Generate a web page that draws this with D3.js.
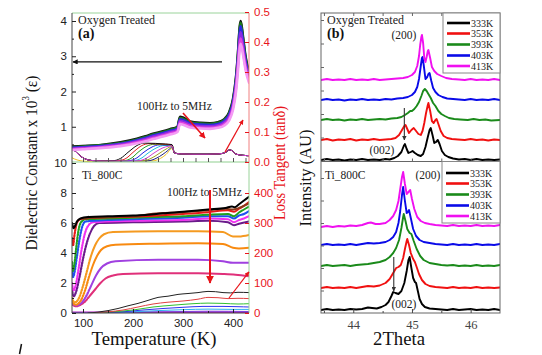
<!DOCTYPE html>
<html><head><meta charset="utf-8">
<script src="https://cdn.jsdelivr.net/npm/d3@7"></script>
<style>body{margin:0;background:#fff}svg{display:block}</style>
</head><body><svg id="c" width="542" height="355"></svg>
<script>
// ================= DATA =================
// Panel (a) – temperature axis
const tempDomain = [78, 432];
const tempTicks = [100, 200, 300, 400];
const epsTopTicks = [1, 2, 3, 4];
const epsBotTicks = [0, 2, 4, 6, 8, 10];
const tanTopTicks = [0, 0.1, 0.2, 0.3, 0.4, 0.5];
const tanBotTicks = [0, 100, 200, 300, 400];

// Oxygen treated: dielectric constant (x10^3), several frequencies
const epsTopBlack = [[78,.44],[100,.45],[140,.49],[175,.56],[208,.66],[225,.73],[240,.80],[260,.87],[274,.93],[289,1.0],[294,1.28],[300,1.26],[314,1.15],[335,1.11],[354,1.1],[370,1.13],[382,1.21],[392,1.4],[400,1.78],[406,2.4],[410,3.1],[413,3.75],[415,4.0],[417,3.88],[420,3.55],[425,3.0],[432,2.55]];
const epsTopGreen = [[78,.42],[100,.44],[140,.48],[175,.54],[208,.64],[225,.71],[240,.78],[260,.85],[274,.91],[289,.98],[294,1.25],[300,1.23],[314,1.13],[335,1.09],[354,1.08],[370,1.11],[382,1.19],[392,1.37],[400,1.74],[406,2.35],[410,3.05],[413,3.7],[415,3.95],[417,3.82],[420,3.5],[425,2.95],[432,2.5]];
const epsTopBlue = [[78,.40],[100,.42],[140,.46],[175,.52],[208,.62],[225,.68],[240,.75],[260,.82],[274,.88],[289,.95],[294,1.21],[300,1.19],[314,1.1],[335,1.06],[354,1.05],[370,1.08],[382,1.16],[392,1.33],[400,1.68],[406,2.28],[410,2.95],[413,3.6],[415,3.85],[417,3.72],[420,3.4],[425,2.88],[432,2.45]];
const epsTopPurple = [[78,.38],[100,.40],[140,.44],[175,.50],[208,.59],[225,.65],[240,.72],[260,.79],[274,.85],[289,.92],[294,1.17],[300,1.15],[314,1.06],[335,1.02],[354,1.01],[370,1.04],[382,1.12],[392,1.28],[400,1.62],[406,2.2],[410,2.85],[413,3.45],[415,3.68],[417,3.58],[420,3.3],[425,2.8],[432,2.38]];
const epsTopMagenta = [[78,.36],[100,.38],[140,.42],[175,.47],[208,.56],[225,.62],[240,.68],[260,.75],[274,.81],[289,.88],[294,1.12],[300,1.1],[314,1.02],[335,.98],[354,.97],[370,1.0],[382,1.07],[392,1.22],[400,1.55],[406,2.1],[410,2.75],[413,3.3],[415,3.5],[417,3.4],[420,3.15],[425,2.7],[432,2.3]];
const epsTopPink = [[78,.34],[100,.36],[140,.40],[175,.45],[208,.53],[225,.59],[240,.65],[260,.72],[274,.78],[289,.85],[294,1.08],[300,1.06],[314,.98],[335,.95],[354,.94],[370,.97],[382,1.03],[392,1.17],[400,1.48],[406,2.0],[410,2.6],[413,3.15],[415,3.35],[417,3.28],[420,3.05],[425,2.62],[432,2.25]];

// Oxygen treated: loss tangent (shared low-T head and high-T tail, per-frequency humps)
const tanTopHead = [[78,.045],[85,.035],[92,.024],[100,.014],[110,.007],[125,.004],[145,.003]];
const tanTopHeadLow = [[78,.014],[88,.007],[100,.003],[120,.001],[145,.002]];
const tanTopTail = [[283,.03],[295,.027],[320,.026],[350,.026],[372,.027],[385,.032],[393,.04],[398,.038],[404,.028],[412,.024],[422,.022],[432,.021]];
const hump0 = [[160,.004],[175,.012],[192,.035],[208,.055],[222,.063],[245,.062],[265,.06],[278,.058]];
const hump1 = [[170,.004],[186,.012],[202,.035],[218,.055],[232,.061],[255,.06],[278,.057]];
const hump2 = [[180,.004],[196,.012],[212,.035],[228,.053],[242,.059],[262,.058],[278,.056]];
const hump3 = [[190,.004],[206,.012],[222,.033],[238,.05],[252,.057],[268,.057],[278,.055]];
const hump4 = [[200,.004],[216,.012],[232,.032],[248,.048],[262,.055],[278,.055]];
const hump5 = [[210,.004],[226,.012],[242,.03],[258,.046],[272,.053],[278,.054]];
const hump6 = [[220,.004],[236,.012],[252,.028],[266,.043],[278,.052]];
const hump7 = [[230,.004],[246,.012],[260,.026],[271,.04],[278,.05]];
const hump8 = [[240,.004],[255,.012],[266,.025],[278,.045]];

// Ti_800C: dielectric constant (x10^3)
const epsBBlack = [[78,6.0],[81,5.65],[84,5.8],[88,6.1],[95,6.3],[110,6.4],[150,6.45],[200,6.5],[230,6.55],[260,6.65],[300,6.75],[350,6.9],[385,7.0],[398,7.1],[403,7.05],[412,7.25],[422,7.5],[432,7.75]];
const epsBBrown = [[100,6.3],[150,6.4],[200,6.45],[240,6.62],[300,6.72],[350,6.85],[385,6.95],[400,6.9],[412,7.0],[432,7.3]];
const epsBRed = [[78,5.0],[80,4.5],[83,5.2],[86,5.8],[90,6.15],[100,6.3],[150,6.38],[200,6.42],[250,6.5],[300,6.6],[350,6.72],[390,6.85],[402,6.75],[412,6.95],[422,7.15],[432,7.4]];
const epsBGreen = [[78,3.4],[80,2.8],[83,3.3],[87,4.5],[91,5.5],[96,6.05],[105,6.25],[150,6.3],[200,6.35],[250,6.4],[300,6.45],[350,6.55],[390,6.6],[402,6.45],[412,6.7],[422,6.9],[432,7.1]];
const epsBBlue = [[78,3.0],[80,2.4],[83,2.7],[88,3.8],[93,4.9],[98,5.7],[105,6.1],[150,6.2],[200,6.25],[300,6.35],[350,6.45],[390,6.45],[402,6.3],[412,6.5],[422,6.6],[432,6.8]];
const epsBMagenta = [[78,2.0],[81,1.5],[85,1.8],[91,2.9],[97,4.2],[103,5.2],[110,5.8],[120,6.05],[200,6.15],[300,6.2],[350,6.3],[390,6.25],[402,6.05],[412,6.2],[422,6.3],[432,6.45]];
const epsBPurple = [[78,1.6],[81,1.1],[86,1.4],[93,2.4],[100,3.6],[107,4.6],[114,5.3],[122,5.8],[132,6.0],[200,6.05],[300,6.1],[350,6.15],[390,6.05],[402,5.85],[412,5.95],[432,6.1]];
const epsBOrange1 = [[78,1.0],[83,0.7],[92,1.0],[100,1.8],[108,2.8],[116,3.8],[124,4.5],[132,4.95],[142,5.25],[160,5.4],[250,5.45],[330,5.45],[380,5.4],[400,5.1],[412,5.1],[432,5.2]];
const epsBOrange2 = [[78,0.8],[85,0.55],[95,0.8],[104,1.5],[112,2.4],[120,3.2],[128,3.8],[136,4.2],[148,4.45],[165,4.55],[250,4.62],[330,4.65],[380,4.6],[400,4.35],[412,4.3],[432,4.35]];
const epsBViolet = [[78,0.7],[86,0.5],[96,0.65],[106,1.1],[116,1.8],[126,2.5],[136,3.0],[148,3.3],[165,3.45],[250,3.55],[330,3.55],[380,3.45],[400,3.35],[432,3.35]];
const epsBCrimson = [[78,0.6],[85,0.45],[95,0.55],[105,0.8],[115,1.2],[125,1.6],[135,2.0],[145,2.3],[160,2.5],[180,2.6],[250,2.65],[330,2.65],[380,2.6],[405,2.55],[432,2.45]];

// Ti_800C: loss tangent (right axis)
const tanBBlack = [[110,0],[130,3],[150,8],[170,15],[190,24],[210,32],[230,42],[250,52],[270,56],[290,62],[310,65],[330,68],[350,72],[365,71],[380,68],[395,67],[410,69],[432,68]];
const tanBRed = [[120,0],[150,4],[180,10],[210,20],[240,30],[270,36],[300,40],[330,46],[350,52],[370,51],[390,48],[410,49],[432,48]];
const tanBGreen = [[130,0],[160,4],[200,10],[240,20],[280,26],[320,31],[350,33],[380,32],[410,30],[432,31]];
const tanBBlue = [[140,0],[180,4],[220,10],[260,15],[300,19],[340,22],[380,22],[410,21],[432,20]];
const tanBCyan = [[150,0],[200,4],[250,8],[300,11],[350,13],[400,12],[432,12]];
const tanBPurple = [[78,1],[200,2],[300,5],[350,6],[432,5]];
const tanBMagenta = [[78,1],[432,2]];

// Panel (b) – XRD, 2Theta
const thetaDomain = [43.45, 46.5];
const thetaTicks = [44, 45, 46];
const legendLabels = ["333K", "353K", "393K", "403K", "413K"];

const xrdTop333 = [[43.45,1],[43.55,2],[43.65,1],[43.75,1.5],[43.85,0.5],[43.95,1.5],[44.05,1],[44.15,2],[44.25,1],[44.35,1.5],[44.45,1],[44.55,2],[44.62,1.5],[44.7,3],[44.76,5],[44.82,9],[44.86,15],[44.88,17],[44.91,12],[44.94,8],[44.98,9],[45.01,10],[45.05,8],[45.1,6],[45.15,5],[45.19,7],[45.23,14],[45.27,24],[45.3,31],[45.32,33],[45.35,26],[45.38,18],[45.41,19],[45.44,21],[45.47,17],[45.51,10],[45.56,6],[45.62,4],[45.7,2.5],[45.8,1.5],[45.9,2],[46.0,1],[46.1,2],[46.2,1],[46.3,1.5],[46.4,1],[46.5,1.5]];
const xrdTop353 = [[43.45,21],[43.55,22],[43.65,20.5],[43.75,21.5],[43.85,21],[43.95,22],[44.05,20.5],[44.15,21.5],[44.25,21],[44.35,22],[44.45,21],[44.55,21.5],[44.65,22],[44.72,23],[44.78,26],[44.83,31],[44.87,35],[44.89,36],[44.92,32],[44.95,28],[44.99,31],[45.03,33],[45.07,30],[45.11,27],[45.15,26],[45.18,30],[45.21,38],[45.24,48],[45.27,56],[45.28,58],[45.31,50],[45.34,40],[45.37,38],[45.4,41],[45.42,42],[45.45,37],[45.49,30],[45.54,25],[45.6,23],[45.68,22],[45.78,21.5],[45.9,21],[46.0,22],[46.1,21],[46.2,21.5],[46.3,20.5],[46.4,21.5],[46.5,21]];
const xrdTop393 = [[43.45,41],[43.55,42],[43.65,41],[43.75,41.5],[43.85,40.5],[43.95,41.5],[44.05,41],[44.15,42],[44.25,41],[44.35,41.5],[44.45,42],[44.55,41.5],[44.65,42.5],[44.75,43],[44.82,44],[44.88,46],[44.93,48],[44.97,50],[45.0,50],[45.04,52],[45.08,55],[45.12,59],[45.16,65],[45.19,70],[45.22,72],[45.25,70],[45.28,67],[45.32,63],[45.36,58],[45.4,55],[45.45,50],[45.5,47],[45.56,45],[45.63,43],[45.72,42],[45.82,41.5],[45.95,41],[46.05,42],[46.15,41],[46.25,41.5],[46.35,40.5],[46.5,41]];
const xrdTop403 = [[43.45,61],[43.55,62],[43.65,61],[43.75,61.5],[43.85,60.5],[43.95,61.5],[44.05,61],[44.15,62],[44.25,61],[44.35,61.5],[44.45,61],[44.55,62],[44.65,61.5],[44.75,62.5],[44.85,63],[44.93,64],[45.0,66],[45.05,69],[45.09,74],[45.12,82],[45.15,95],[45.17,103],[45.18,104],[45.2,96],[45.23,82],[45.26,84],[45.28,87],[45.3,88],[45.33,80],[45.36,73],[45.4,69],[45.45,66],[45.52,64],[45.6,62.5],[45.7,62],[45.8,61.5],[45.9,61],[46.0,62],[46.1,61],[46.2,61.5],[46.3,61],[46.4,62],[46.5,61]];
const xrdTop413 = [[43.45,81],[43.55,82],[43.65,81],[43.75,81.5],[43.85,81],[43.95,82],[44.05,81],[44.15,81.5],[44.25,81],[44.35,82],[44.45,81],[44.55,81.5],[44.65,82],[44.75,82.5],[44.85,83],[44.93,84],[45.0,86],[45.05,89],[45.09,95],[45.12,105],[45.14,116],[45.16,124],[45.17,126],[45.19,118],[45.21,103],[45.23,99],[45.25,104],[45.27,110],[45.28,111],[45.31,103],[45.34,94],[45.38,90],[45.43,87],[45.5,85],[45.58,83],[45.68,82],[45.8,81.5],[45.9,81],[46.0,82],[46.1,81],[46.2,81.5],[46.3,81],[46.4,82],[46.5,81]];

const xrdBot333 = [[43.45,3],[43.55,4],[43.65,3],[43.75,3.5],[43.85,3],[43.95,4],[44.05,3.5],[44.15,4],[44.25,5.5],[44.32,5],[44.4,4.5],[44.48,6],[44.55,8],[44.6,11],[44.65,17],[44.68,21],[44.72,20],[44.77,19],[44.82,22],[44.87,30],[44.91,42],[44.94,53],[44.96,56],[44.99,45],[45.02,35],[45.05,31],[45.07,30],[45.1,22],[45.13,14],[45.17,9],[45.22,6],[45.3,4.5],[45.4,4],[45.5,3.5],[45.6,3],[45.7,4],[45.8,3],[45.9,3.5],[46.0,4],[46.1,3],[46.2,3.5],[46.3,3],[46.4,4],[46.5,3]];
const xrdBot353 = [[43.45,25],[43.55,26],[43.65,25],[43.75,25.5],[43.85,25],[43.95,26],[44.05,25],[44.15,26],[44.25,27],[44.35,26.5],[44.45,27.5],[44.55,30],[44.62,34],[44.68,40],[44.73,45],[44.77,46],[44.81,48],[44.85,55],[44.88,64],[44.91,72],[44.92,74],[44.95,68],[44.98,60],[45.02,54],[45.05,51],[45.08,46],[45.12,39],[45.17,33],[45.23,29],[45.3,27],[45.4,26],[45.5,25.5],[45.6,25],[45.7,26],[45.8,25],[45.9,25.5],[46.0,25],[46.1,26],[46.2,25],[46.3,25.5],[46.4,25],[46.5,25.5]];
const xrdBot393 = [[43.45,47],[43.55,48],[43.65,47],[43.75,47.5],[43.85,48],[43.95,47],[44.05,48],[44.15,48.5],[44.25,49],[44.35,50],[44.45,51],[44.55,53],[44.62,56],[44.68,60],[44.73,65],[44.78,73],[44.82,85],[44.85,96],[44.86,99],[44.89,92],[44.92,84],[44.96,80],[44.99,79],[45.03,72],[45.08,64],[45.14,57],[45.2,53],[45.3,50],[45.4,49],[45.5,48],[45.6,47.5],[45.7,48],[45.8,47],[45.9,47.5],[46.0,47],[46.1,48],[46.2,47],[46.3,47.5],[46.4,47],[46.5,48]];
const xrdBot403 = [[43.45,68],[43.55,69],[43.65,68],[43.75,68.5],[43.85,68],[43.95,69],[44.05,68],[44.15,69],[44.25,70],[44.35,69.5],[44.45,70],[44.55,71],[44.62,73],[44.68,76],[44.73,81],[44.77,90],[44.8,102],[44.83,118],[44.85,126],[44.88,112],[44.91,100],[44.93,101],[44.95,103],[44.98,95],[45.02,84],[45.07,77],[45.13,73],[45.2,71],[45.3,70],[45.4,69],[45.5,68.5],[45.6,68],[45.7,69],[45.8,68],[45.9,68.5],[46.0,68],[46.1,69],[46.2,68],[46.3,68.5],[46.4,68],[46.5,69]];
const xrdBot413 = [[43.45,86],[43.55,87],[43.65,86],[43.75,87],[43.85,86.5],[43.95,87.5],[44.05,87],[44.15,88],[44.25,90],[44.3,90.5],[44.38,89],[44.45,89],[44.55,90],[44.62,93],[44.68,97],[44.73,103],[44.77,112],[44.8,124],[44.83,136],[44.85,141],[44.88,129],[44.91,119],[44.94,121],[44.97,123],[45.0,114],[45.04,104],[45.09,96],[45.15,92],[45.22,90],[45.3,89],[45.4,88],[45.5,87.5],[45.6,87],[45.7,88],[45.8,87],[45.9,87.5],[46.0,87],[46.1,88],[46.2,87],[46.3,87.5],[46.4,87],[46.5,88]];

// ================= DRAWING =================
const SERIF = "'Liberation Serif','Times New Roman',serif";
const SANS = "'Liberation Sans',Arial,sans-serif";
const RED = "#e8141a";
const svg = d3.select("#c");
svg.append("rect").attr("width",542).attr("height",355).attr("fill","#fff");
const defs = svg.append("defs");
function marker(id, color){
  defs.append("marker").attr("id",id).attr("viewBox","0 0 10 10").attr("refX",9).attr("refY",5)
    .attr("markerWidth",4).attr("markerHeight",4).attr("orient","auto")
    .append("path").attr("d","M0,0L10,5L0,10z").attr("fill",color);
}
marker("mr", RED); marker("mk", "#111"); marker("mg", "#333");

const A = {l:72, r:249, t:13, m:162, b:313};
const B = {l:321, r:500, t:13, m:161.5, b:313};
function clip(id,x,y,w,h){ defs.append("clipPath").attr("id",id).append("rect").attr("x",x).attr("y",y).attr("width",w).attr("height",h); }
clip("cAT", A.l, A.t, A.r-A.l, A.m-A.t);
clip("cAB", A.l, A.m, A.r-A.l, A.b-A.m);
clip("cBT", B.l, B.t, B.r-B.l, B.m-B.t);
clip("cBB", B.l, B.m, B.r-B.l, B.b-B.m);

const xA = d3.scaleLinear().domain(tempDomain).range([A.l, A.r]);
const yAT = d3.scaleLinear().domain([0, 4.227]).range([A.m, A.t]);
const yATr = d3.scaleLinear().domain([0, 0.5]).range([A.m, 12]);
const yAB = d3.scaleLinear().domain([0, 10]).range([A.b, 163]);
const yABr = d3.scaleLinear().domain([0, 500]).range([A.b, 163]);
const xB = d3.scaleLinear().domain(thetaDomain).range([B.l, B.r]);
const yBT = d3.scaleLinear().domain([0, 148]).range([161, B.t]);
const yBB = d3.scaleLinear().domain([0, 151]).range([B.b, 162]);

function drawLine(g, data, xs, ys, color, w, smooth, dash){
  const ln = d3.line().x(d=>xs(d[0])).y(d=>ys(d[1])).curve(smooth ? d3.curveMonotoneX : d3.curveLinear);
  const p = g.append("path").datum(data).attr("d", ln).attr("fill","none").attr("stroke",color)
    .attr("stroke-width",w).attr("stroke-linejoin","round").attr("stroke-linecap","round");
  if(dash) p.attr("stroke-dasharray", dash);
  return p;
}

// ---- Panel (a) top ----
const gAT = svg.append("g").attr("clip-path","url(#cAT)");
const tanTopCurves = [
  [tanTopHeadLow, hump8, "#f0c020"],
  [tanTopHead, hump7, "#202080"],
  [tanTopHead, hump6, "#a0a020"],
  [tanTopHead, hump4, "#20c0e0"],
  [tanTopHead, hump3, "#2020e0"],
  [tanTopHead, hump2, "#20a020"],
  [tanTopHead, hump1, "#e02020"],
  [tanTopHead, hump0, "#111111"],
  [tanTopHead, hump5, "#d040d0"]
];
tanTopCurves.forEach(([h, hp, c]) => drawLine(gAT, h.concat(hp, tanTopTail), xA, yATr, c, 1, true));
[[epsTopBlack,"#111"],[epsTopGreen,"#1a7a1a"],[epsTopBlue,"#2a2ae0"],[epsTopPurple,"#8a2be2"],[epsTopMagenta,"#e040e0"],[epsTopPink,"#f49af4"]]
  .forEach(([d,c]) => drawLine(gAT, d, xA, yAT, c, 2.6, true));

// ---- Panel (a) bottom ----
const gAB = svg.append("g").attr("clip-path","url(#cAB)");
[[tanBMagenta,"#b020c0",2.5],[tanBPurple,"#8040e0",1],[tanBCyan,"#30b0f0",1],[tanBBlue,"#3030f0",1],[tanBGreen,"#30c030",1],[tanBRed,"#e04040",1],[tanBBlack,"#222",1]]
  .forEach(([d,c,w]) => drawLine(gAB, d, xA, yABr, c, w, true));
const epsBotCurves = [[epsBCrimson,"#e0307a"],[epsBViolet,"#a040e0"],[epsBOrange2,"#f88a10"],[epsBOrange1,"#f59a20"],[epsBPurple,"#6a1a8a"],[epsBMagenta,"#f030f0"],[epsBBlue,"#2050f0"],[epsBGreen,"#20a020"],[epsBRed,"#e81818"],[epsBBrown,"#8b3a1a"],[epsBBlack,"#000"]];
// steep low-temperature part looks dotted (sparse points), plateau solid
const gABdot = gAB.append("g");
const gABsolid = gAB.append("g");
defs.append("clipPath").attr("id","cLow").append("rect").attr("x",A.l).attr("y",A.m).attr("width",xA(112)-A.l).attr("height",A.b-A.m);
defs.append("clipPath").attr("id","cHigh").append("rect").attr("x",xA(112)).attr("y",A.m).attr("width",A.r-xA(112)).attr("height",A.b-A.m);
gABdot.attr("clip-path","url(#cLow)");
gABsolid.attr("clip-path","url(#cHigh)");
epsBotCurves.forEach(([d,c],i) => {
  const dotted = i < 10 && i !== 9;
  drawLine(gABdot, d, xA, yAB, c, 2.2, true, dotted ? "1.2,1.6" : null);
  drawLine(gABsolid, d, xA, yAB, c, 2, true);
});

// ---- Panel (a) frame & axes ----
const fr = svg.append("g");
fr.append("line").attr("x1",A.l).attr("x2",A.r).attr("y1",A.t).attr("y2",A.t).attr("stroke","#9ad39a");
fr.append("line").attr("x1",A.l).attr("x2",A.r).attr("y1",A.m).attr("y2",A.m).attr("stroke","#8fcf8f").attr("stroke-width",1.2);
fr.append("line").attr("x1",A.r).attr("x2",A.r).attr("y1",A.t).attr("y2",A.m).attr("stroke","#f08080");
fr.append("line").attr("x1",A.r).attr("x2",A.r).attr("y1",A.m).attr("y2",A.b).attr("stroke","#9ad39a");
fr.append("line").attr("x1",A.l).attr("x2",A.l).attr("y1",A.t).attr("y2",A.b).attr("stroke","#444");
fr.append("line").attr("x1",A.l).attr("x2",A.r).attr("y1",A.b).attr("y2",A.b).attr("stroke","#444");

function styleAxis(g, color, font, size){
  g.select(".domain").remove();
  g.selectAll(".tick line").attr("stroke", color);
  g.selectAll(".tick text").attr("fill", color).attr("font-family", font).attr("font-size", size);
}
const fmtInt = d3.format("d");
svg.append("g").attr("transform",`translate(${A.l},0)`)
  .call(d3.axisLeft(yAT).tickValues(epsTopTicks).tickFormat(fmtInt).tickSize(-4).tickPadding(5))
  .call(g=>styleAxis(g,"#222",SANS,11.5));
svg.append("g").attr("transform",`translate(${A.l},0)`)
  .call(d3.axisLeft(yAB).tickValues(epsBotTicks).tickFormat(fmtInt).tickSize(-4).tickPadding(5))
  .call(g=>styleAxis(g,"#222",SANS,11.5));
svg.append("g").attr("transform",`translate(${A.l},0)`)
  .call(d3.axisLeft(yAB).tickValues([1,3,5,7,9]).tickSize(-2).tickFormat(""))
  .call(g=>styleAxis(g,"#222",SANS,11));
svg.append("g").attr("transform",`translate(${A.l},0)`)
  .call(d3.axisLeft(yAT).tickValues([0.5,1.5,2.5,3.5]).tickSize(-2).tickFormat(""))
  .call(g=>styleAxis(g,"#222",SANS,11));
svg.append("g").attr("transform",`translate(${A.r},0)`)
  .call(d3.axisRight(yATr).tickValues(tanTopTicks).tickFormat(d3.format(".1f")).tickSize(-4).tickPadding(5))
  .call(g=>styleAxis(g,RED,SANS,11.5));
svg.append("g").attr("transform",`translate(${A.r},0)`)
  .call(d3.axisRight(yABr).tickValues(tanBotTicks).tickFormat(fmtInt).tickSize(-4).tickPadding(5))
  .call(g=>styleAxis(g,RED,SANS,11.5));
svg.append("g").attr("transform",`translate(0,${A.b})`)
  .call(d3.axisBottom(xA).tickValues(tempTicks).tickFormat(fmtInt).tickSize(-4).tickPadding(6))
  .call(g=>styleAxis(g,"#222",SANS,11.5));
svg.append("g").attr("transform",`translate(0,${A.b})`)
  .call(d3.axisBottom(xA).tickValues([150,250,350]).tickSize(-2).tickFormat(""))
  .call(g=>styleAxis(g,"#222",SANS,11));
svg.append("g").attr("transform",`translate(0,${A.m})`)
  .call(d3.axisBottom(xA).tickValues(d3.range(100,431,25)).tickSize(-4).tickFormat(""))
  .call(g=>styleAxis(g,"#555",SANS,11));

// ---- Panel (a) annotations ----
function txt(x,y,s,size,opts={}){
  const t = svg.append("text").attr("x",x).attr("y",y).text(s).attr("font-family",opts.font||SERIF)
    .attr("font-size",size).attr("fill",opts.color||"#222");
  if(opts.bold) t.attr("font-weight","bold");
  if(opts.anchor) t.attr("text-anchor",opts.anchor);
  return t;
}
txt(78,24,"Oxygen Treated",12);
txt(78,38,"(a)",14,{bold:true,color:"#111"});
txt(137,110,"100Hz to 5MHz",11.5);
txt(82,179,"Ti_800C",11.5);
txt(167,196,"100Hz to 5MHz",11.5);

function arrow(x1,y1,x2,y2,color,mk,w){
  svg.append("line").attr("x1",x1).attr("y1",y1).attr("x2",x2).attr("y2",y2)
    .attr("stroke",color).attr("stroke-width",w).attr("marker-end",`url(#${mk})`);
}
arrow(xA(378), yAT(2.84), xA(80), yAT(2.84), "#111", "mk", 1.3);
arrow(xA(300), yAT(1.39), xA(344), yAT(0.68), RED, "mr", 1.6);
arrow(xA(384), yATr(0.033), xA(420), yATr(0.14), RED, "mr", 1.2);
arrow(xA(354), yAB(8.2), xA(354), yAB(2.0), RED, "mr", 2);
arrow(xA(392), yABr(50), xA(432), yABr(137), RED, "mr", 1.2);

// axis titles (fitted to target length)
function title(x,y,target,rot,build){
  const t = svg.append("text").attr("text-anchor","middle").attr("font-family",SERIF);
  build(t);
  const w = t.node().getBBox().width;
  t.attr("transform",`translate(${x},${y}) rotate(${rot}) scale(${target/w},1)`);
  return t;
}
title(37,163,175,-90,t=>{
  t.attr("font-size",17.5).attr("fill","#111");
  t.append("tspan").text("Dielectric Constant x 10");
  t.append("tspan").text("3").attr("font-size",10).attr("dy",-8);
  t.append("tspan").text(" (ε)").attr("dy",8);
});
title(285,163,114,-90,t=>{ t.attr("font-size",16.5).attr("fill",RED).text("Loss Tangent (tanδ)"); });
title(311,178,97,-90,t=>{ t.attr("font-size",16.5).attr("fill","#111").text("Intensity (AU)"); });
title(154,345,125,0,t=>{ t.attr("font-size",18).attr("fill","#111").text("Temperature (K)"); });
title(399,345,52,0,t=>{ t.attr("font-size",18).attr("fill","#111").text("2Theta"); });

svg.append("line").attr("x1",21.5).attr("y1",344).attr("x2",19.5).attr("y2",354).attr("stroke","#111").attr("stroke-width",1.5);

// ---- Panel (b) ----
const xrdColors = ["#000","#f01010","#1a8a1a","#0a0ae8","#f010f0"];
const gBT = svg.append("g").attr("clip-path","url(#cBT)");
[xrdTop333,xrdTop353,xrdTop393,xrdTop403,xrdTop413].forEach((d,i)=>drawLine(gBT,d,xB,yBT,xrdColors[i],1.9,false));
const gBB = svg.append("g").attr("clip-path","url(#cBB)");
[xrdBot333,xrdBot353,xrdBot393,xrdBot403,xrdBot413].forEach((d,i)=>drawLine(gBB,d,xB,yBB,xrdColors[i],1.9,false));

const fb = svg.append("g").attr("fill","none").attr("stroke","#666");
fb.append("rect").attr("x",B.l).attr("y",B.t).attr("width",B.r-B.l).attr("height",B.b-B.t);
fb.append("line").attr("x1",B.l).attr("x2",B.r).attr("y1",B.m).attr("y2",B.m);

svg.append("g").attr("transform",`translate(0,${B.b})`)
  .call(d3.axisBottom(xB).tickValues(thetaTicks).tickFormat(fmtInt).tickSize(-4).tickPadding(7))
  .call(g=>styleAxis(g,"#444",SERIF,12.5));
svg.append("g").attr("transform",`translate(0,${B.b})`)
  .call(d3.axisBottom(xB).tickValues([43.5,44.5,45.5]).tickSize(-2).tickFormat(""))
  .call(g=>styleAxis(g,"#444",SERIF,12));
svg.append("g").attr("transform",`translate(0,${B.m})`)
  .call(d3.axisBottom(xB).tickValues([43.5,44,44.5,45,45.5,46]).tickSize(-3).tickFormat(""))
  .call(g=>styleAxis(g,"#666",SERIF,12));
svg.append("g").attr("transform",`translate(0,${B.t})`)
  .call(d3.axisTop(xB).tickValues([43.5,44,44.5,45,45.5,46]).tickSize(-3).tickFormat(""))
  .call(g=>styleAxis(g,"#666",SERIF,12));
svg.append("g").attr("transform",`translate(${B.l},0)`)
  .call(d3.axisLeft(yBT).tickValues([23.5,47,70.5,94,117.5,141]).tickSize(-3).tickFormat(""))
  .call(g=>styleAxis(g,"#666",SERIF,12));
svg.append("g").attr("transform",`translate(${B.l},0)`)
  .call(d3.axisLeft(yBB).tickValues([22.5,45,67.5,90,112.5,135]).tickSize(-3).tickFormat(""))
  .call(g=>styleAxis(g,"#666",SERIF,12));

// legends
function legend(x0,y0,h,ys){
  svg.append("rect").attr("x",x0).attr("y",y0).attr("width",B.r-x0).attr("height",h)
    .attr("fill","#fff").attr("stroke","#888");
  legendLabels.forEach((lab,i)=>{
    svg.append("line").attr("x1",x0+4).attr("x2",x0+27).attr("y1",ys[i]).attr("y2",ys[i])
      .attr("stroke",xrdColors[i]).attr("stroke-width",2.6);
    txt(x0+28,ys[i]+3.5,lab,10,{color:"#222"});
  });
}
legend(443,13,60,[23,33.5,44.5,55.5,66]);
legend(442,161.5,61.5,[173,183.5,194.5,205.5,216]);

txt(327,24,"Oxygen Treated",12);
txt(327,38,"(b)",14,{bold:true,color:"#111"});
txt(404,39,"(200)",11.5,{anchor:"middle"});
txt(382,154,"(002)",11.5,{anchor:"middle"});
txt(325,179,"Ti_800C",11.5);
txt(428,179,"(200)",11.5,{anchor:"middle"});
txt(404,308,"(002)",11.5,{anchor:"middle"});
arrow(xB(44.87), yBT(53), xB(44.87), yBT(21), "#333", "mg", 1.1);
arrow(xB(44.69), yBB(56), xB(44.69), yBB(22), "#333", "mg", 1.1);
</script></body></html>
